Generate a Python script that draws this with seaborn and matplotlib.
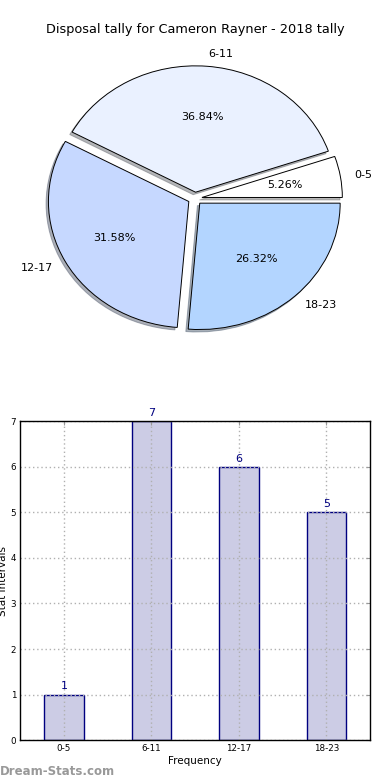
import matplotlib
matplotlib.use("Agg")
import matplotlib.pyplot as plt
import seaborn as sns
import pandas as pd

sns.set_style("white")
plt.rcParams['font.family'] = ['DejaVu Sans']
plt.rcParams['text.color'] = 'black'
plt.rcParams['axes.labelcolor'] = 'black'
plt.rcParams['xtick.labelcolor'] = 'black'
plt.rcParams['ytick.labelcolor'] = 'black'

intervals = ["0-5", "6-11", "12-17", "18-23"]
counts = [1, 7, 6, 5]
pie_colors = ["#FFFFFF", "#EAF1FF", "#C6D8FF", "#B3D5FF"]
title = "Disposal tally for Cameron Rayner - 2018 tally"

df = pd.DataFrame({"Interval": intervals, "Count": counts})

fig = plt.figure(figsize=(3.9, 7.8), dpi=100)

# pie on top
ax1 = fig.add_axes([0.05, 0.543, 0.9, 0.405])
wedges, texts, autotexts = ax1.pie(
    df["Count"], labels=df["Interval"], colors=pie_colors,
    autopct="%1.2f%%", startangle=0, counterclock=True,
    explode=[0.05] * 4,
    shadow={"ox": -0.012, "oy": -0.014, "shade": 0.55},
    wedgeprops={"edgecolor": "black", "linewidth": 0.7},
    textprops={"fontsize": 8, "color": "black"})
ax1.set_aspect("auto")
ax1.set_title(title, fontsize=9.3, pad=5.5, color="black")

# bars below
ax2 = fig.add_axes([0.052, 0.051, 0.897, 0.409])
sns.barplot(data=df, x="Interval", y="Count", ax=ax2, color="#CCCCE5",
            saturation=1, width=0.45, edgecolor="navy", linewidth=1)
ax2.set_xlim(-0.5, 3.5)
ax2.set_ylim(0, 7)
ax2.set_yticks(range(0, 8))
ax2.grid(True, linestyle=(0, (1, 2)), color="#b0b0b0", linewidth=1)
ax2.set_axisbelow(False)
for p in ax2.patches:
    p.set_zorder(0.5)
ax2.tick_params(labelsize=6.3, direction="in", length=3, color="#999999",
                top=True, right=True, pad=3)
for s in ax2.spines.values():
    s.set_color("black")
    s.set_linewidth(1)
    s.set_zorder(3)
for i, v in enumerate(counts):
    ax2.text(i, v + 0.07, str(v), ha="center", va="bottom",
             color="navy", fontsize=8)
ax2.set_xlabel("Frequency", fontsize=7.5, labelpad=2)
ax2.set_ylabel("Stat Intervals", fontsize=7.5, labelpad=2)

fig.text(0.0, 0.003, "Dream-Stats.com", fontsize=8.5, color="#999999",
         fontweight="bold", ha="left", va="bottom")

fig.savefig("out.png", dpi=100)
